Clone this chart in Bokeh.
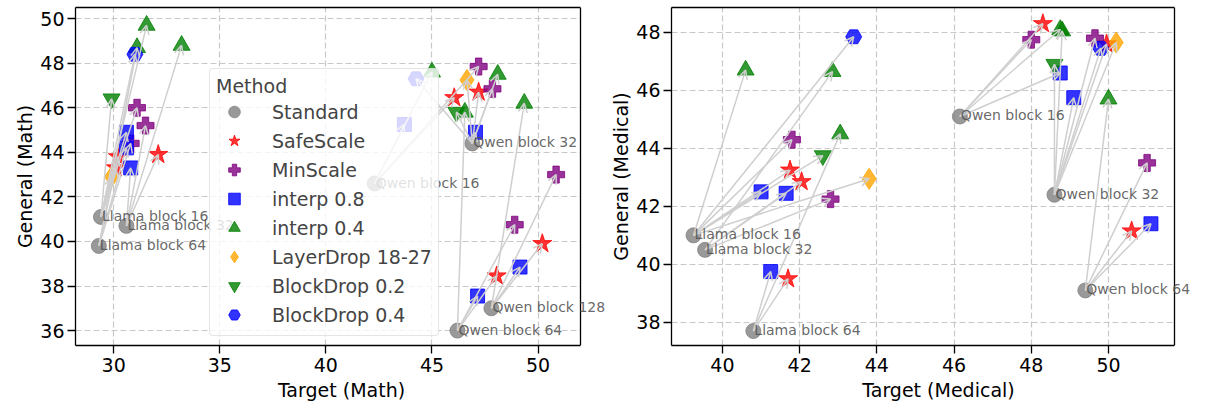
from bokeh.plotting import figure
from bokeh.layouts import row
from bokeh.models import (ColumnDataSource, Arrow, OpenHead, Legend, LegendItem, FixedTicker,
                          Range1d, Label, LinearAxis, Span, BoxAnnotation)
from bokeh.embed import file_html
from bokeh.resources import INLINE

# ---------------- data ----------------
methods = ["Standard", "SafeScale", "MinScale", "interp 0.8", "interp 0.4",
           "LayerDrop 18-27", "BlockDrop 0.2", "BlockDrop 0.4"]

math_configs = ["Llama block 16", "Llama block 32", "Llama block 64",
                "Qwen block 16", "Qwen block 32", "Qwen block 64", "Qwen block 128"]
math_std_x = [29.4, 30.6, 29.3, 42.3, 46.9, 46.2, 47.8]
math_std_y = [41.1, 40.7, 39.8, 42.6, 44.4, 36.0, 37.0]

math_cfg = ["Llama block 16"] * 7 + ["Llama block 32"] * 4 + ["Llama block 64"] * 4 + \
           ["Qwen block 16"] * 4 + ["Qwen block 32"] * 7 + ["Qwen block 64"] * 4 + ["Qwen block 128"] * 4
math_method = ["SafeScale", "MinScale", "interp 0.8", "interp 0.4", "LayerDrop 18-27", "BlockDrop 0.2", "BlockDrop 0.4",
               "SafeScale", "MinScale", "interp 0.8", "interp 0.4",
               "SafeScale", "MinScale", "interp 0.8", "interp 0.4",
               "interp 0.8", "interp 0.4", "SafeScale", "MinScale",
               "BlockDrop 0.4", "LayerDrop 18-27", "SafeScale", "MinScale", "interp 0.4", "BlockDrop 0.2", "interp 0.8",
               "interp 0.8", "SafeScale", "MinScale", "interp 0.4",
               "interp 0.8", "SafeScale", "MinScale", "interp 0.4"]
math_x = [30.2, 31.1, 30.6, 31.55, 29.9, 29.9, 31.0,
          32.1, 31.5, 30.8, 33.2,
          30.1, 30.8, 30.6, 31.1,
          43.7, 45.0, 46.05, 47.2,
          44.25, 46.65, 47.2, 47.85, 48.1, 46.15, 47.05,
          47.15, 48.05, 48.9, 46.55,
          49.15, 50.2, 50.85, 49.35]
math_y = [43.8, 46.0, 44.9, 49.7, 42.9, 46.4, 48.4,
          43.9, 45.2, 43.3, 48.8,
          43.3, 44.4, 44.2, 48.7,
          45.25, 47.6, 46.45, 47.85,
          47.3, 47.25, 46.7, 46.85, 47.5, 45.8, 44.9,
          37.55, 38.45, 40.75, 45.8,
          38.85, 39.9, 43.0, 46.2]

med_configs = ["Llama block 16", "Llama block 32", "Llama block 64",
               "Qwen block 16", "Qwen block 32", "Qwen block 64"]
med_std_x = [39.25, 39.55, 40.8, 46.15, 48.6, 49.4]
med_std_y = [41.0, 40.5, 37.7, 45.1, 42.4, 39.1]

med_cfg = ["Llama block 16"] * 7 + ["Llama block 32"] * 4 + ["Llama block 64"] * 3 + \
          ["Qwen block 16"] * 4 + ["Qwen block 32"] * 7 + ["Qwen block 64"] * 4
med_method = ["SafeScale", "MinScale", "interp 0.8", "interp 0.4", "LayerDrop 18-27", "BlockDrop 0.2", "BlockDrop 0.4",
              "SafeScale", "MinScale", "interp 0.8", "interp 0.4",
              "SafeScale", "interp 0.8", "interp 0.4",
              "SafeScale", "MinScale", "interp 0.8", "interp 0.4",
              "SafeScale", "MinScale", "interp 0.8", "interp 0.4", "LayerDrop 18-27", "BlockDrop 0.2", "BlockDrop 0.4",
              "SafeScale", "MinScale", "interp 0.8", "interp 0.4"]
med_x = [41.75, 41.8, 41.0, 40.6, 43.8, 42.6, 43.4,
         42.05, 42.8, 41.65, 42.85,
         41.7, 41.25, 43.05,
         48.3, 48.0, 48.75, 48.75,
         49.95, 49.65, 49.1, 48.8, 50.2, 48.6, 49.8,
         50.6, 51.0, 51.1, 50.0]
med_y = [43.25, 44.3, 42.5, 46.7, 42.95, 43.75, 47.85,
         42.85, 42.25, 42.45, 46.65,
         39.5, 39.75, 44.5,
         48.3, 47.75, 46.6, 48.1,
         47.6, 47.8, 45.75, 48.05, 47.65, 46.9, 47.45,
         41.15, 43.5, 41.4, 45.7]

math_xticks = [30, 35, 40, 45, 50]
math_yticks = [36, 38, 40, 42, 44, 46, 48, 50]
med_xticks = [40, 42, 44, 46, 48, 50]
med_yticks = [38, 40, 42, 44, 46, 48]

# ---------------- styles ----------------
STYLE = {
    "Standard": dict(marker="circle", color="gray", size=15),
    "SafeScale": dict(marker="star", color="red", size=20),
    "MinScale": dict(marker="plus", color="purple", size=17),
    "interp 0.8": dict(marker="square", color="blue", size=14),
    "interp 0.4": dict(marker="triangle", color="green", size=17),
    "LayerDrop 18-27": dict(marker="diamond", color="orange", size=21),
    "BlockDrop 0.2": dict(marker="inverted_triangle", color="green", size=17),
    "BlockDrop 0.4": dict(marker="hex", color="blue", size=16),
}
FONT = "DejaVu Sans"
SPINE_W = 1.3


def make_panel(width, border_left, border_right, box_px, extra_px, xr, yr, xticks, yticks,
               xlabel, ylabel, configs, std_x, std_y, cfg, meth, xs, ys, with_legend):
    # the drawing frame extends a little past the visible axes box so that the
    # point labels may run over the right spine, as in the original
    x0, x_spine = xr
    x_end = x_spine + extra_px * (x_spine - x0) / box_px
    p = figure(width=width, height=408, output_backend="svg", toolbar_location=None,
               x_range=Range1d(x0, x_end), y_range=Range1d(*yr),
               min_border_left=border_left, min_border_right=border_right,
               min_border_top=7, min_border_bottom=63)
    p.background_fill_color = "white"
    p.border_fill_color = "white"
    p.outline_line_color = None
    p.xaxis.ticker = FixedTicker(ticks=xticks)
    p.yaxis.ticker = FixedTicker(ticks=yticks)
    p.xaxis.bounds = (x0, x_spine)
    p.xaxis.axis_label = xlabel
    p.yaxis.axis_label = ylabel
    for ax in (p.xaxis, p.yaxis):
        ax.axis_line_color = "black"
        ax.axis_line_width = SPINE_W
        ax.major_tick_line_width = SPINE_W
        ax.major_tick_in = 0
        ax.major_tick_out = 8
        ax.minor_tick_line_color = None
        ax.major_label_text_font = FONT
        ax.major_label_text_font_size = "19px"
        ax.major_label_text_color = "black"
        ax.axis_label_text_font = FONT
        ax.axis_label_text_font_size = "19px"
        ax.axis_label_text_font_style = "normal"
        ax.axis_label_text_color = "black"
        ax.major_label_standoff = 4
        ax.axis_label_standoff = 4
    p.yaxis.major_label_standoff = 3
    p.yaxis.axis_label_standoff = 1
    p.grid.grid_line_color = "#c8c8c8"
    p.grid.grid_line_dash = "6 3"
    p.grid.grid_line_width = 1.2

    # top spine (only across the axes box) and right spine
    top = LinearAxis(ticker=FixedTicker(ticks=[]), bounds=(x0, x_spine),
                     axis_line_color="black", axis_line_width=SPINE_W,
                     major_tick_out=0, major_tick_in=0, minor_tick_out=0, minor_tick_in=0,
                     major_label_standoff=0, major_label_text_font_size="0px")
    p.add_layout(top, "above")
    p.add_layout(BoxAnnotation(left=x_spine, fill_color="white", fill_alpha=1.0,
                               line_color=None, level="underlay"))
    p.add_layout(Span(location=x_spine, dimension="height", line_color="black",
                      line_width=SPINE_W))

    renderers = {}
    st = STYLE["Standard"]
    renderers["Standard"] = p.scatter(x=std_x, y=std_y, marker=st["marker"], size=st["size"],
                                      fill_color=st["color"], line_color=st["color"],
                                      fill_alpha=0.8, line_alpha=0.8)
    for m in methods[1:]:
        sx = [x for x, mm in zip(xs, meth) if mm == m]
        sy = [y for y, mm in zip(ys, meth) if mm == m]
        s = STYLE[m]
        renderers[m] = p.scatter(x=sx, y=sy, marker=s["marker"], size=s["size"],
                                 fill_color=s["color"], line_color=s["color"],
                                 fill_alpha=0.8, line_alpha=0.8)

    # arrows from standard to each method point
    lookup = {c: (x, y) for c, x, y in zip(configs, std_x, std_y)}
    src = ColumnDataSource(dict(
        x0=[lookup[c][0] for c in cfg], y0=[lookup[c][1] for c in cfg],
        x1=list(xs), y1=list(ys)))
    arr = Arrow(end=OpenHead(size=9, line_color="#cfcfcf", line_width=1.5),
                x_start="x0", y_start="y0", x_end="x1", y_end="y1", source=src,
                line_color="#cfcfcf", line_width=1.5)
    p.add_layout(arr)

    if with_legend:
        items = [LegendItem(label=m, renderers=[renderers[m]]) for m in methods]
        leg = Legend(items=items, location=(134, 9), title="Method",
                     label_text_font=FONT, label_text_font_size="19px",
                     title_text_font=FONT, title_text_font_size="19px",
                     title_text_font_style="normal", title_standoff=0,
                     glyph_width=36, glyph_height=29, label_height=29,
                     spacing=0, padding=6, label_standoff=20, margin=0,
                     border_line_color="#cccccc", border_line_width=1,
                     border_radius=4, background_fill_color="white",
                     background_fill_alpha=0.8)
        p.add_layout(leg)

    # config labels, on top of the markers
    for c, x, y in zip(configs, std_x, std_y):
        p.add_layout(Label(x=x, y=y, text=c, x_offset=1, y_offset=1, level="overlay",
                           text_font=FONT, text_font_size="14px", text_color="#555555",
                           text_alpha=0.9, text_baseline="alphabetic", text_align="left"))
    return p


p1 = make_panel(607, 75, 0, 505, 27, (28.2, 52.0), (35.33, 50.5), math_xticks, math_yticks,
                "Target (Math)", "General (Math)",
                math_configs, math_std_x, math_std_y, math_cfg, math_method, math_x, math_y, True)
p2 = make_panel(601, 64, 3, 503, 31, (38.68, 51.71), (37.2, 48.86), med_xticks, med_yticks,
                "Target (Medical)", "General (Medical)",
                med_configs, med_std_x, med_std_y, med_cfg, med_method, med_x, med_y, False)

layout = row(p1, p2)
open("out.html", "w").write(file_html(layout, INLINE))
